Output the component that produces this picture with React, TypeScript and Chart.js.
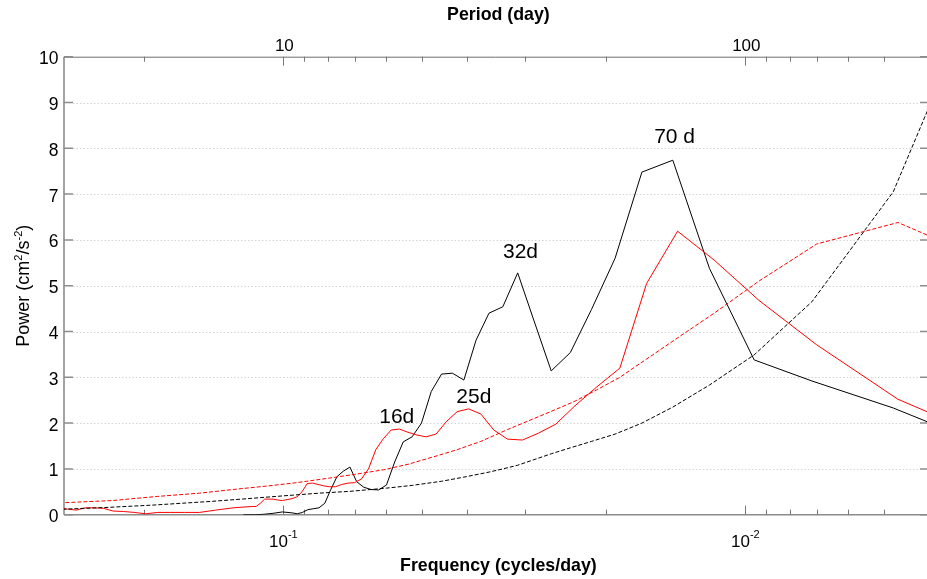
import { useEffect, useRef } from "react";
import { Chart, registerables } from "chart.js";

Chart.register(...registerables);

const FONT = '"Liberation Sans", Arial, Helvetica, sans-serif';

// Record lengths (days): the spectra are sampled at Fourier frequencies k / N
const BLACK_RECORD_DAYS = 418;
const RED_RECORD_DAYS = 428;

// Black spectrum (solid)
const blackHarmonics = [
  1, 2, 3, 4, 5, 6, 7, 8, 9, 10, 11, 12, 13, 14, 15, 16, 17, 18, 19, 20, 21, 22, 23, 24, 25,
  26, 27, 28, 29, 30, 31, 32, 33, 34, 35, 36, 37, 38, 39, 40, 42, 44, 46, 48, 51,
];
const blackPower = [
  1.1, 2.33, 2.92, 3.38, 5.38, 7.74, 7.48, 5.6, 4.48, 3.54, 3.14, 4.25, 5.28, 4.54, 4.4, 3.81,
  2.94, 3.09, 3.07, 2.69, 2.0, 1.7, 1.59, 1.15, 0.65, 0.54, 0.55, 0.6, 0.72, 1.04, 0.95, 0.83,
  0.55, 0.25, 0.15, 0.13, 0.11, 0.05, 0.02, 0.04, 0.06, 0.03, 0.01, 0.0, 0.0,
];

// Black reference (dashed)
const blackNoiseHarmonics = [1, 2, 3, 4, 5, 6, 7, 8, 9, 10, 11, 12, 13, 14, 15, 17, 19, 22, 25, 30, 35, 42, 50, 60, 80, 100, 125];
const blackNoise = [
  14.25, 7.05, 4.65, 3.49, 2.83, 2.35, 2.0, 1.76, 1.6, 1.46, 1.33, 1.2, 1.08, 1.0, 0.93, 0.82,
  0.73, 0.64, 0.58, 0.51, 0.47, 0.41, 0.35, 0.29, 0.21, 0.16, 0.12,
];

// Red spectrum (solid)
const redHarmonics = [
  1, 2, 3, 4, 5, 6, 7, 8, 9, 10, 11, 12, 13, 14, 15, 16, 17, 18, 19, 20, 21, 22, 23, 24, 25,
  26, 27, 28, 29, 30, 31, 32, 33, 34, 35, 36, 37, 38, 39, 40, 41, 42, 43, 44, 45, 46, 47, 48, 49,
  50, 55, 60, 65, 70, 75, 80, 85, 90, 95, 100, 105, 110, 115, 120, 125, 129,
];
const redPower = [
  1.22, 2.52, 3.71, 4.68, 5.56, 6.19, 5.05, 3.2, 2.78, 2.38, 1.98, 1.78, 1.63, 1.65, 1.85, 2.2,
  2.31, 2.25, 2.03, 1.76, 1.7, 1.74, 1.8, 1.87, 1.85, 1.66, 1.42, 1.0, 0.78, 0.7, 0.69, 0.66,
  0.61, 0.61, 0.63, 0.66, 0.69, 0.68, 0.5, 0.39, 0.35, 0.33, 0.31, 0.32, 0.34, 0.34, 0.34, 0.25,
  0.18, 0.18, 0.15, 0.1, 0.05, 0.05, 0.05, 0.05, 0.02, 0.05, 0.07, 0.08, 0.14, 0.15, 0.15, 0.1,
  0.12, 0.14,
];

// Red reference (dashed)
const redNoiseHarmonics = [1, 2, 3, 4, 5, 6, 7, 8, 9, 10, 11, 12, 14, 16, 18, 20, 23, 26, 30, 34, 40, 46, 55, 65, 80, 100, 129];
const redNoise = [
  5.07, 6.38, 5.91, 5.1, 4.4, 3.86, 3.4, 3.0, 2.72, 2.48, 2.3, 2.14, 1.86, 1.6, 1.42, 1.28, 1.1,
  0.98, 0.88, 0.8, 0.7, 0.63, 0.55, 0.47, 0.4, 0.31, 0.26,
];

// Axes
const FREQ_MIN = 0.004044;
const FREQ_MAX = 0.2984;
const powerTicks = [0, 1, 2, 3, 4, 5, 6, 7, 8, 9, 10];
const freqMajorTicks = [0.1, 0.01];
const freqMajorExponents = ["-1", "-2"];
const freqMinorTicks = [0.2, 0.09, 0.08, 0.07, 0.06, 0.05, 0.04, 0.03, 0.02, 0.009, 0.008, 0.007, 0.006, 0.005];
const periodTickLabels = [10, 100];

// Peak annotations (placed at frequency / power)
const peakLabels = ["16d", "25d", "32d", "70 d"];
const peakFreq = [0.05682, 0.03869, 0.03067, 0.01423];
const peakPower = [1.996, 2.445, 5.61, 8.11];

const toPoints = (harm: number[], vals: number[], days: number) =>
  harm.map((k, i) => ({ x: k / days, y: vals[i] }));

const framePlugin = {
  id: "frame",
  beforeDatasetsDraw(chart: any) {
    const { ctx, chartArea, scales } = chart;
    const { left, right, top, bottom } = chartArea;
    const x = scales.x;
    const y = scales.y;
    ctx.save();
    // dotted grid
    ctx.strokeStyle = "#d4d4d4";
    ctx.lineWidth = 1;
    ctx.setLineDash([1.5, 2]);
    powerTicks.forEach((v) => {
      if (v === 0 || v === 10) return;
      const py = Math.round(y.getPixelForValue(v)) + 0.5;
      ctx.beginPath();
      ctx.moveTo(left + 9, py);
      ctx.lineTo(right - 7, py);
      ctx.stroke();
    });
    ctx.setLineDash([]);
    // axis lines
    ctx.strokeStyle = "#8c8c8c";
    ctx.lineWidth = 1.6;
    ctx.beginPath();
    ctx.moveTo(left, top);
    ctx.lineTo(left, bottom);
    ctx.moveTo(left, bottom);
    ctx.lineTo(right, bottom);
    ctx.stroke();
    ctx.strokeStyle = "#6e6e6e";
    ctx.lineWidth = 1;
    ctx.beginPath();
    ctx.moveTo(left, top + 0.5);
    ctx.lineTo(right, top + 0.5);
    ctx.stroke();
    // y ticks (inward, both sides)
    ctx.strokeStyle = "#8c8c8c";
    ctx.lineWidth = 1.5;
    powerTicks.forEach((v) => {
      const py = y.getPixelForValue(v);
      ctx.beginPath();
      ctx.moveTo(left, py);
      ctx.lineTo(left + 9, py);
      ctx.moveTo(right, py);
      ctx.lineTo(right - 7, py);
      ctx.stroke();
    });
    // x ticks (inward, bottom and top)
    ctx.strokeStyle = "#777";
    ctx.lineWidth = 1;
    const drawX = (f: number, len: number) => {
      const px = Math.round(x.getPixelForValue(f)) + 0.5;
      ctx.beginPath();
      ctx.moveTo(px, bottom);
      ctx.lineTo(px, bottom - len);
      ctx.moveTo(px, top);
      ctx.lineTo(px, top + len);
      ctx.stroke();
    };
    freqMajorTicks.forEach((f) => drawX(f, 9));
    freqMinorTicks.forEach((f) => drawX(f, 5));
    ctx.restore();
  },
  afterDatasetsDraw(chart: any) {
    const { ctx, chartArea, scales } = chart;
    const { left, top, bottom } = chartArea;
    const x = scales.x;
    const y = scales.y;
    ctx.save();
    ctx.fillStyle = "#000";
    ctx.textBaseline = "alphabetic";
    // y tick labels
    ctx.font = `17.5px ${FONT}`;
    ctx.textAlign = "right";
    powerTicks.forEach((v) => {
      ctx.fillText(String(v), left - 5.5, y.getPixelForValue(v) + 7.4);
    });
    // bottom tick labels 10^-n
    freqMajorTicks.forEach((f, i) => {
      const px = x.getPixelForValue(f);
      ctx.font = `17px ${FONT}`;
      const wb = ctx.measureText("10").width;
      ctx.font = `11px ${FONT}`;
      const we = ctx.measureText(freqMajorExponents[i]).width;
      const start = px - (wb + we) / 2;
      ctx.textAlign = "left";
      ctx.font = `17px ${FONT}`;
      ctx.fillText("10", start, bottom + 32);
      ctx.font = `11px ${FONT}`;
      ctx.fillText(freqMajorExponents[i], start + wb, bottom + 23.3);
    });
    // top tick labels (period)
    ctx.font = `17px ${FONT}`;
    ctx.textAlign = "center";
    periodTickLabels.forEach((p) => {
      ctx.fillText(String(p), x.getPixelForValue(1 / p) + 1, top - 5.7);
    });
    // axis titles
    ctx.font = `bold 17.8px ${FONT}`;
    ctx.textAlign = "center";
    const midX = 498.4;
    ctx.fillText("Period (day)", midX, 19.5);
    ctx.fillText("Frequency (cycles/day)", midX, bottom + 56.5);
    // y title with superscripts
    ctx.save();
    ctx.translate(28.5, (top + bottom) / 2);
    ctx.rotate(-Math.PI / 2);
    const parts: [string, boolean][] = [
      ["Power (cm", false],
      ["2", true],
      ["/s", false],
      ["-2", true],
      [")", false],
    ];
    let total = 0;
    parts.forEach(([t, sup]) => {
      ctx.font = sup ? `11px ${FONT}` : `18px ${FONT}`;
      total += ctx.measureText(t).width;
    });
    let cx = -total / 2;
    ctx.textAlign = "left";
    parts.forEach(([t, sup]) => {
      ctx.font = sup ? `11px ${FONT}` : `18px ${FONT}`;
      ctx.fillText(t, cx, sup ? -7 : 0);
      cx += ctx.measureText(t).width;
    });
    ctx.restore();
    // peak labels
    ctx.font = `21px ${FONT}`;
    ctx.textAlign = "center";
    peakLabels.forEach((t, i) => {
      ctx.fillText(t, x.getPixelForValue(peakFreq[i]), y.getPixelForValue(peakPower[i]));
    });
    ctx.restore();
  },
};

export default function App() {
  const canvasRef = useRef<HTMLCanvasElement | null>(null);

  useEffect(() => {
    const canvas = canvasRef.current;
    if (!canvas) return;
    const chart = new Chart(canvas, {
      type: "line",
      data: {
        datasets: [
          {
            label: "black reference",
            data: toPoints(blackNoiseHarmonics, blackNoise, BLACK_RECORD_DAYS),
            borderColor: "#000000",
            borderWidth: 1,
            borderDash: [4, 2],
          },
          {
            label: "red reference",
            data: toPoints(redNoiseHarmonics, redNoise, RED_RECORD_DAYS),
            borderColor: "#ff0000",
            borderWidth: 1,
            borderDash: [4, 2],
          },
          {
            label: "red spectrum",
            data: toPoints(redHarmonics, redPower, RED_RECORD_DAYS),
            borderColor: "#ff0000",
            borderWidth: 1,
          },
          {
            label: "black spectrum",
            data: toPoints(blackHarmonics, blackPower, BLACK_RECORD_DAYS),
            borderColor: "#000000",
            borderWidth: 1,
          },
        ],
      },
      options: {
        animation: false,
        responsive: false,
        devicePixelRatio: 1,
        layout: { padding: { left: 64, right: 0, top: 56.7, bottom: 64.3 } },
        elements: { point: { radius: 0 }, line: { tension: 0 } },
        plugins: { legend: { display: false }, tooltip: { enabled: false } },
        events: [],
        scales: {
          x: { type: "logarithmic", reverse: true, min: FREQ_MIN, max: FREQ_MAX, display: false },
          y: { type: "linear", min: 0, max: 10, display: false },
        },
      },
      plugins: [framePlugin],
    });
    return () => chart.destroy();
  }, []);

  return (
    <div style={{ position: "absolute", left: 0, top: 0, width: 927, height: 579, background: "#fff" }}>
      <canvas ref={canvasRef} width={927} height={579} style={{ display: "block" }} />
    </div>
  );
}
